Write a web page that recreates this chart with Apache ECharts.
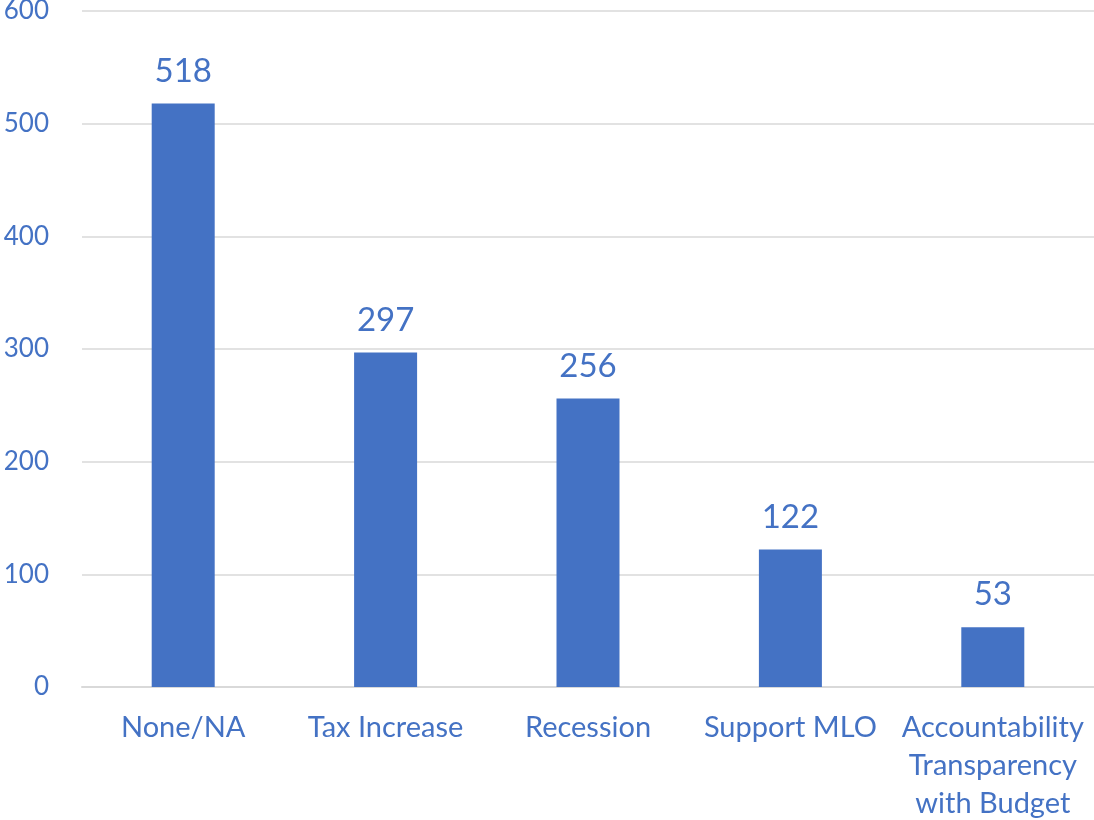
<!DOCTYPE html>
<html>
<head>
<meta charset="utf-8">
<script src="https://cdn.jsdelivr.net/npm/echarts@6/dist/echarts.min.js"></script>
<style>
  html, body { margin: 0; padding: 0; background: #fff; }
  #chart { width: 1094px; height: 820px; }
</style>
</head>
<body>
<div id="chart"></div>
<script>
const categories = ['None/NA', 'Tax Increase', 'Recession', 'Support MLO', 'Accountability\nTransparency\nwith Budget'];
const counts = [518, 297, 256, 122, 53];
const yTicks = { min: 0, max: 600, interval: 100 };

const blue = '#4472C4';
const font = 'Lato, "Open Sans", sans-serif';

const chart = echarts.init(document.getElementById('chart'));
chart.setOption({
  animation: false,
  grid: { left: 82, right: 0, top: 11, bottom: 133, outerBoundsMode: 'none', containLabel: false },
  xAxis: {
    type: 'category',
    data: categories,
    axisLine: { lineStyle: { color: '#d9d9d9', width: 2 } },
    axisTick: { show: false },
    axisLabel: {
      color: blue, fontSize: 29, fontFamily: font,
      margin: 22, lineHeight: 38, interval: 0
    }
  },
  yAxis: {
    type: 'value',
    min: yTicks.min, max: yTicks.max, interval: yTicks.interval,
    axisLine: { show: false },
    axisTick: { show: false },
    splitLine: { lineStyle: { color: '#d9d9d9', width: 1.5 } },
    axisLabel: { color: blue, fontSize: 26, fontFamily: font, margin: 33 }
  },
  series: [{
    type: 'bar',
    data: counts,
    barWidth: 63,
    itemStyle: { color: blue },
    label: {
      show: true, position: 'top', distance: 16,
      color: blue, fontSize: 33, fontFamily: font
    }
  }]
});
</script>
</body>
</html>
